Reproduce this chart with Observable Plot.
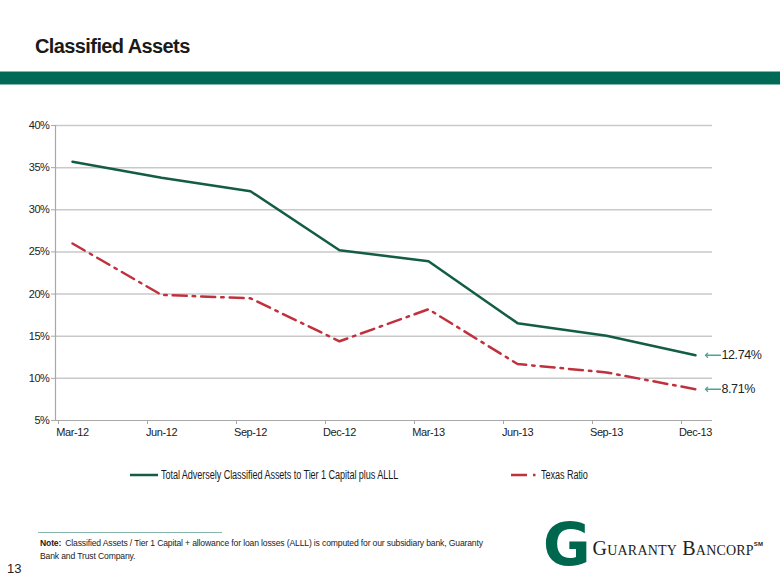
<!DOCTYPE html>
<html>
<head>
<meta charset="utf-8">
<script src="https://cdn.jsdelivr.net/npm/d3@7"></script>
<script src="https://cdn.jsdelivr.net/npm/@observablehq/plot@0.6"></script>
<style>
  html, body { margin: 0; padding: 0; background: #fff; }
  body { width: 780px; height: 585px; position: relative; overflow: hidden;
         font-family: "Liberation Sans", Arial, sans-serif; color: #1a1a1a; }
  #title { position: absolute; left: 35px; top: 35px; font-size: 20px; font-weight: bold; letter-spacing: -0.6px; white-space: nowrap; }
  #band { position: absolute; left: 0; top: 71px; width: 780px; height: 14px; background: #006a57;
          border-top: 1px solid #7fb7ae; border-bottom: 1px solid #7fb7ae; box-sizing: border-box; }
  #chart { position: absolute; left: 0; top: 100px; }
  #legend { position: absolute; top: 467px; left: 0; width: 780px; height: 16px; font-size: 12px; }
  .lg { position: absolute; top: 0; display: flex; align-items: center; height: 16px; white-space: nowrap; }
  .lg svg { margin-right: 3px; }
  .lg span { display: inline-block; transform: scaleX(0.76); transform-origin: left center; letter-spacing: -0.1px; }
  #noteline { position: absolute; left: 38px; top: 532px; width: 184px; height: 1px; background: #86b6ae; }
  #note { position: absolute; left: 40px; top: 537px; font-size: 8.6px; line-height: 13px; color: #222; letter-spacing: -0.15px; white-space: nowrap; }
  #note b { margin-right: 4px; }
  #page { position: absolute; left: 7px; top: 561px; font-size: 13px; color: #222; }
  #logo { position: absolute; left: 543px; top: 514px; display: flex; align-items: center; white-space: nowrap; }
  #logo .g { font-family: "DejaVu Sans", sans-serif; font-weight: bold; font-size: 58px; color: #00674f; line-height: 62px; }
  #logo .t { font-family: "Liberation Serif", "DejaVu Serif", serif; font-size: 20px; font-variant: small-caps; color: #222; margin-left: 2px; letter-spacing: 0.2px; margin-top: 6px; }
  #logo .t sup { font-size: 6px; vertical-align: 9px; font-variant: normal; font-family: "Liberation Sans", sans-serif; font-weight: bold; }
</style>
</head>
<body>
<div id="title">Classified Assets</div>
<div id="band"></div>
<div id="chart"></div>
<div id="legend"></div>
<div id="noteline"></div>
<div id="note">
  <div><b>Note:</b><span>Classified Assets / Tier 1 Capital + allowance for loan losses (ALLL) is computed for our subsidiary bank, Guaranty</span></div>
  <div>Bank and Trust Company.</div>
</div>
<div id="page">13</div>
<div id="logo"><span class="g">G</span><span class="t">Guaranty Bancorp<sup>SM</sup></span></div>
<script>
const quarters = ["Mar-12", "Jun-12", "Sep-12", "Dec-12", "Mar-13", "Jun-13", "Sep-13", "Dec-13"];
const classifiedRatio = [35.7, 33.8, 32.2, 25.2, 23.9, 16.55, 15.05, 12.74];
const texasRatio = [26.0, 19.9, 19.5, 14.4, 18.2, 11.7, 10.7, 8.71];
const yTicks = [5, 10, 15, 20, 25, 30, 35, 40];
const seriesNames = ["Total Adversely Classified Assets to Tier 1 Capital plus ALLL", "Texas Ratio"];
const seriesColors = ["#135c45", "#c0313d"];
const endLabels = ["12.74%", "8.71%"];

const green = quarters.map((q, i) => ({q, v: classifiedRatio[i]}));
const red = quarters.map((q, i) => ({q, v: texasRatio[i]}));
const ends = [
  {q: quarters[quarters.length - 1], v: classifiedRatio[classifiedRatio.length - 1], label: endLabels[0]},
  {q: quarters[quarters.length - 1], v: texasRatio[texasRatio.length - 1], label: endLabels[1]}
];

const font = '"Liberation Sans", Arial, sans-serif';
const chart = Plot.plot({
  width: 780,
  height: 345,
  marginLeft: 55,
  marginRight: 68,
  marginTop: 25,
  marginBottom: 25,
  style: {fontFamily: font, fontSize: "11px", letterSpacing: "-0.4px", color: "#222", background: "transparent", overflow: "visible"},
  x: {type: "point", domain: quarters, padding: 0.17},
  y: {domain: [5, 40]},
  marks: [
    Plot.ruleY(yTicks.filter(d => d > 5), {stroke: "#c9c9c9", strokeWidth: 1.5}),
    Plot.ruleY([5], {stroke: "#a8a8a8", strokeWidth: 1.2}),
    Plot.frame({anchor: "left", stroke: "#a8a8a8", strokeWidth: 1.2}),
    Plot.axisY({ticks: yTicks, tickFormat: d => d + "%", tickSize: 4, stroke: "#a8a8a8", tickPadding: 2, label: null, fill: "#222"}),
    Plot.axisX({tickSize: 0, tickPadding: 8, label: null, fill: "#222"}),
    Plot.axisX({tickSize: 4, text: null, dx: -14, stroke: "#a8a8a8", label: null}),
    Plot.line(green, {x: "q", y: "v", stroke: seriesColors[0], strokeWidth: 2.5}),
    Plot.line(red, {x: "q", y: "v", stroke: seriesColors[1], strokeWidth: 2.5, strokeDasharray: "14,6,2.5,6"}),
    Plot.vector(ends, {x: "q", y: "v", length: 15, rotate: 270, anchor: "end", dx: 10, r: 2.5, stroke: "#4fa394", strokeWidth: 1.3}),
    Plot.text(ends, {x: "q", y: "v", text: "label", dx: 26, textAnchor: "start", fontSize: 12.5, fill: "#222", letterSpacing: "-0.7px"})
  ]
});
document.getElementById("chart").appendChild(chart);

const legend = document.getElementById("legend");
const pos = [130, 511];
seriesNames.forEach((name, i) => {
  const div = document.createElement("div");
  div.className = "lg";
  div.style.left = pos[i] + "px";
  const dash = i === 1 ? 'stroke-dasharray="16,6,2.5,6"' : "";
  const w = i === 1 ? 27 : 28;
  div.innerHTML = `<svg width="${w}" height="6"><line x1="0" y1="3" x2="${w}" y2="3" stroke="${seriesColors[i]}" stroke-width="2.5" ${dash}/></svg><span>${name}</span>`;
  legend.appendChild(div);
});
</script>
</body>
</html>
